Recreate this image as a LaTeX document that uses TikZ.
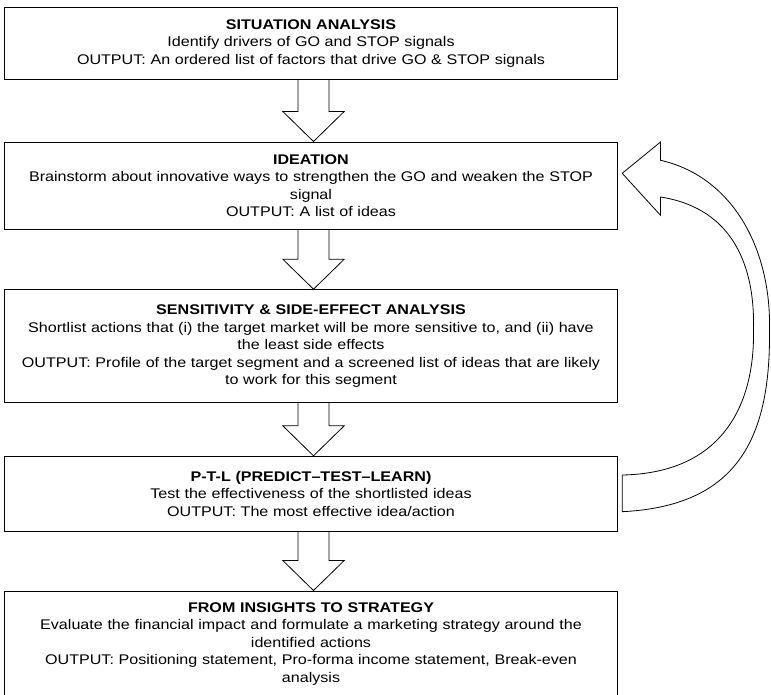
\documentclass[tikz,border=0pt]{standalone}
\usepackage{fontspec}
\setmainfont{Liberation Sans}[FakeStretch=1.15]
\usetikzlibrary{positioning,calc}
\tikzset{%
  % Specifications for style of nodes:
        base/.style = {rectangle, draw=black, line width=1pt,
                       minimum width=612.6pt, text width=600pt,
                       inner sep=0pt, align=center,
                       font=\fontsize{14}{17.5}\selectfont},
       stage/.style = {base},
  blockarrow/.style = {draw=black, line width=0.8pt, line join=miter},
}
% hollow arrow between two stages
\newcommand{\blockarrow}[2]{%
  \draw[blockarrow] ($(#1.south)+(-13pt,0)$) -- ($(#2.north)+(-13pt,30pt)$)
    -- ($(#2.north)+(-28.2pt,30pt)$) -- ($(#2.north)+(2.5pt,0)$)
    -- ($(#2.north)+(33.2pt,30pt)$) -- ($(#2.north)+(18pt,30pt)$)
    -- ($(#1.south)+(18pt,0)$);}

\begin{document}
\begin{tikzpicture}
  \useasboundingbox (0,0) rectangle (771pt,-694pt);

  % Specification of nodes (position, etc.)
  \node (situation) [stage, minimum height=71.8pt] at (311pt,-43.4pt)
    {\textbf{SITUATION ANALYSIS}\\
     Identify drivers of GO and STOP signals\\
     OUTPUT: An ordered list of factors that drive GO \& STOP signals};
  \node (ideation)  [stage, minimum height=87.3pt, below=61.7pt of situation]
    {\textbf{IDEATION}\\
     Brainstorm about innovative ways to strengthen the GO and weaken the STOP\\
     signal\\
     OUTPUT: A list of ideas};
  \node (sensitivity) [stage, minimum height=113pt, below=59.4pt of ideation]
    {\textbf{SENSITIVITY \& SIDE-EFFECT ANALYSIS}\\
     Shortlist actions that (i) the target market will be more sensitive to, and (ii) have\\
     the least side effects\\
     OUTPUT: Profile of the target segment and a screened list of ideas that are likely\\
     to work for this segment};
  \node (ptl) [stage, minimum height=75pt, below=52.6pt of sensitivity]
    {\textbf{P-T-L (PREDICT–TEST–LEARN)}\\
     Test the effectiveness of the shortlisted ideas\\
     OUTPUT: The most effective idea/action};
  \node (strategy) [stage, minimum height=106pt, below=58.7pt of ptl]
    {\textbf{FROM INSIGHTS TO STRATEGY}\\
     Evaluate the financial impact and formulate a marketing strategy around the\\
     identified actions\\
     OUTPUT: Positioning statement, Pro-forma income statement, Break-even\\
     analysis};

  % Specification of arrows between nodes specified above
  \blockarrow{situation}{ideation}
  \blockarrow{ideation}{sensitivity}
  \blockarrow{sensitivity}{ptl}
  \blockarrow{ptl}{strategy}

  % feedback loop from P-T-L back to ideation
  \coordinate (tip) at ($(ideation.east)+(4.4pt,12.35pt)$);
  \begin{scope}[shift={(tip)}, x=1pt, y=1pt]
    \draw[blockarrow] (38.3,13) -- (38.3,31.3) -- (0,0) -- (38.3,-42) -- (38.3,-23.7)
      .. controls (103.3,-33.7) and (133.3,-82.7) .. (131.3,-157.7)
      .. controls (132.3,-227.7) and (103.3,-299.7) .. (0,-301.7)
      -- (0,-338.4)
      .. controls (113.3,-332.7) and (148.3,-267.7) .. (147.3,-157.7)
      .. controls (149.3,-72.7) and (108.3,-2.7) .. cycle;
  \end{scope}
\end{tikzpicture}
\end{document}
